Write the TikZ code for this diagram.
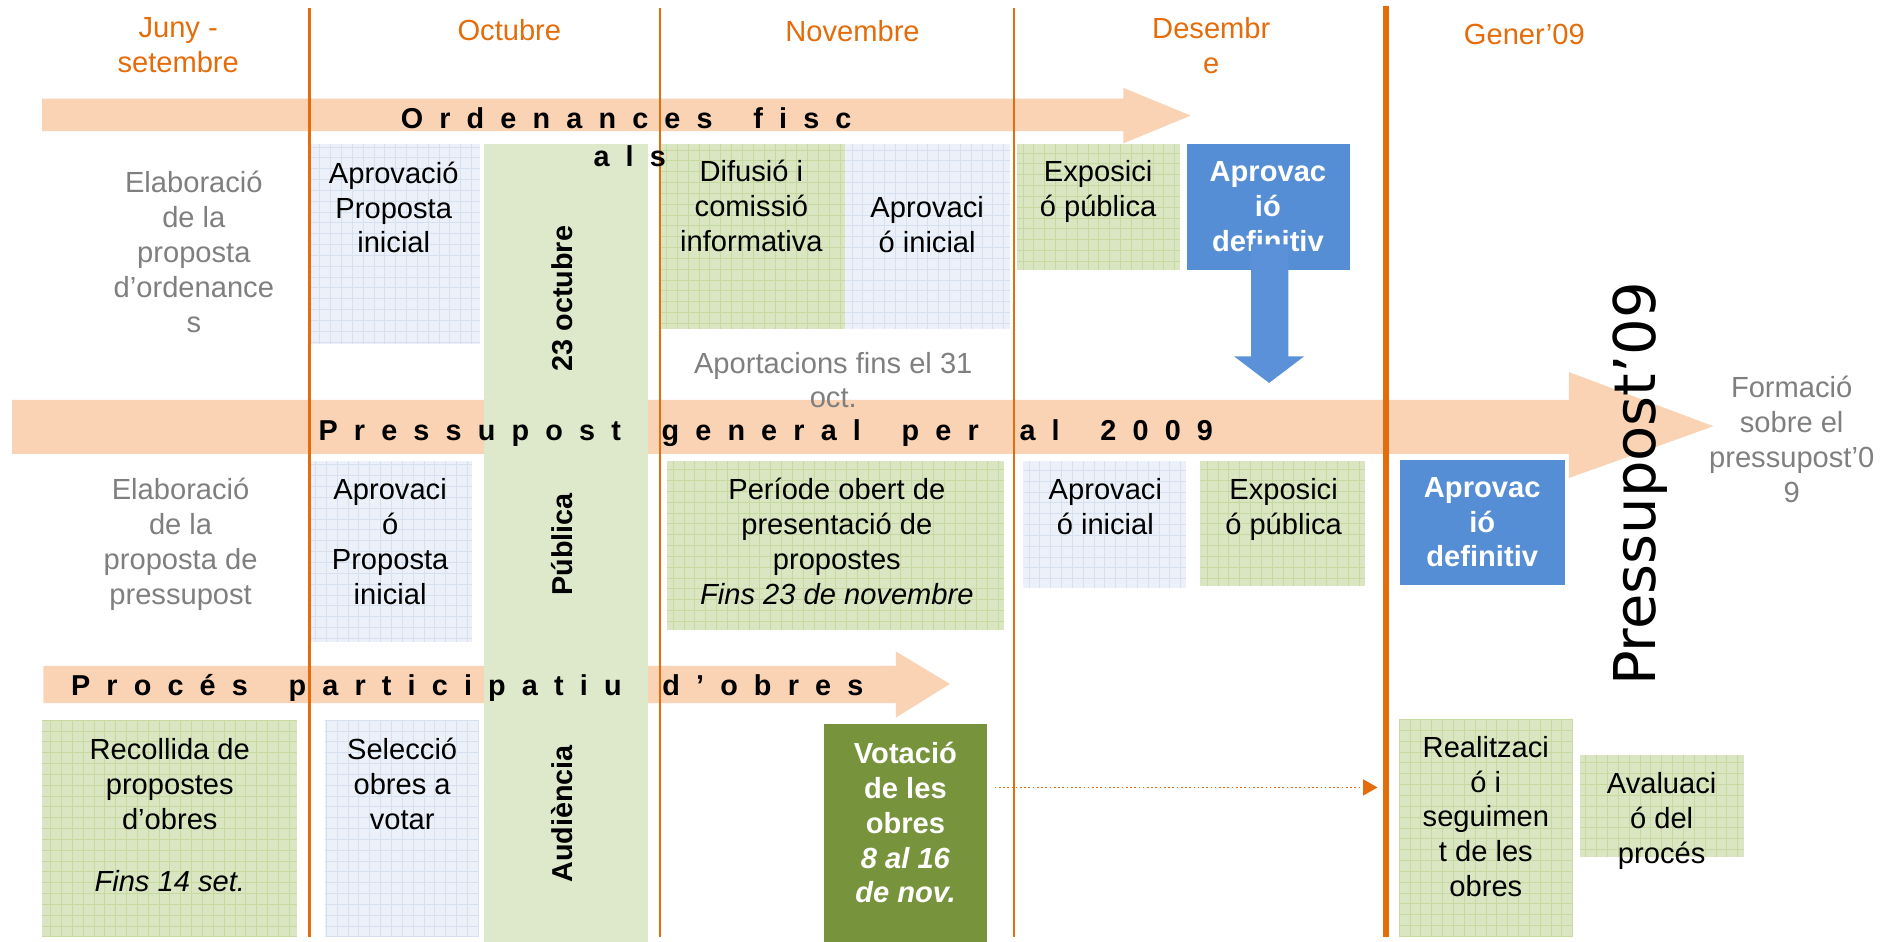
\documentclass[tikz,border=0pt]{standalone}
\usepackage{fontspec}
\setmainfont{Liberation Sans}
\newfontfamily\bigsans{DejaVu Sans}
\usetikzlibrary{arrows.meta}

\definecolor{mesorange}{HTML}{E46C0A}
\definecolor{peach}{HTML}{FAD3B5}
\definecolor{greenfill}{HTML}{DAE6C2}
\definecolor{greengrid}{HTML}{C6D9A0}
\definecolor{bandgreen}{HTML}{DEE9CC}
\definecolor{bluefill}{HTML}{ECF0F8}
\definecolor{bluegrid}{HTML}{D7E0EF}
\definecolor{boxblue}{HTML}{558ED5}
\definecolor{arrowblue}{HTML}{5B91D8}
\definecolor{olivebox}{HTML}{77933C}
\definecolor{greytext}{HTML}{7F7F7F}

\newcommand\bodyfont{\fontsize{17.2}{20.6}\selectfont}
\newcommand\spacedfont{\fontsize{17}{20}\selectfont\bfseries\spaceskip=9.55pt\relax}
\newcommand\wg{\hspace{14.5pt}}

\tikzset{
	mesline/.style={mesorange, line width=1.3pt},
	cell/.style={anchor=north west, inner sep=0pt, outer sep=0pt},
	gbox/.style={cell, fill=greenfill, path picture={\draw[greengrid, line width=0.4pt] (path picture bounding box.south west) grid[step=2.25mm] (path picture bounding box.north east);}},
	bbox/.style={cell, fill=bluefill, path picture={\draw[bluegrid, line width=0.4pt] (path picture bounding box.south west) grid[step=2.25mm] (path picture bounding box.north east);}},
	txt/.style={anchor=north, inner sep=0pt, align=center, font=\bodyfont, execute at begin node=\strut},
	month/.style={txt, text=mesorange},
	greytxt/.style={txt, text=greytext},
	whitetxt/.style={txt, text=white, font=\bodyfont\bfseries},
	bandtxt/.style={rotate=90, inner sep=0pt, font=\fontsize{17}{20}\selectfont\bfseries},
	spaced/.style={anchor=base, inner sep=0pt, font=\spacedfont}
}

\begin{document}
\begin{tikzpicture}[x=0.025cm, y=-0.025cm]
	\useasboundingbox (0,0) rectangle (1568,782);

	\fill[peach] (35,82) -- (933,82) -- (933,73) -- (989,96) -- (933,119) -- (933,109) -- (35,109) -- cycle;
	\fill[peach] (10,332) -- (1303,332) -- (1303,309) -- (1423,354) -- (1303,397) -- (1303,377) -- (10,377) -- cycle;
	\fill[peach] (36,553) -- (744,553) -- (744,541) -- (789,568) -- (744,596) -- (744,584) -- (36,584) -- cycle;

	\node[cell, fill=bandgreen, minimum width=3.4cm, minimum height=16.55cm] (band) at (402,120) {};

	\node[bbox, minimum width=3.525cm, minimum height=4.15cm] (ordaprov) at (258,120) {};
	\node[gbox, minimum width=3.825cm, minimum height=3.825cm] (difusio) at (549,120) {};
	\node[bbox, minimum width=3.425cm, minimum height=3.825cm] (ordinicial) at (702,120) {};
	\node[gbox, minimum width=3.375cm, minimum height=2.6cm] (ordexpo) at (845,120) {};
	\node[cell, fill=boxblue, minimum width=3.375cm, minimum height=2.6cm] (orddef) at (986,120) {};

	\node[bbox, minimum width=3.35cm, minimum height=3.75cm] (pressaprov) at (258,383) {};
	\node[gbox, minimum width=7cm, minimum height=3.5cm] (periode) at (554,383) {};
	\node[bbox, minimum width=3.375cm, minimum height=2.625cm] (pressinicial) at (850,383) {};
	\node[gbox, minimum width=3.425cm, minimum height=2.6cm] (pressexpo) at (997,383) {};
	\node[cell, fill=boxblue, minimum width=3.425cm, minimum height=2.6cm] (pressdef) at (1163,382) {};

	\node[gbox, minimum width=5.3cm, minimum height=4.5cm] (recollida) at (35,598) {};
	\node[bbox, minimum width=3.2cm, minimum height=4.5cm] (seleccio) at (270,598) {};
	\node[cell, fill=olivebox, minimum width=3.4cm, minimum height=4.525cm] (votacio) at (684,601) {};
	\node[gbox, minimum width=3.6cm, minimum height=4.525cm] (realitz) at (1162,597) {};
	\node[gbox, minimum width=3.4cm, minimum height=2.125cm] (avaluacio) at (1312,627) {};

	\draw[mesline] (257,7) -- (257,778);
	\draw[mesline] (548,7) -- (548,778);
	\draw[mesline] (842,7) -- (842,778);
	\draw[mesline, line width=3.2pt] (1151,5) -- (1151,778);

	\node[month] (juny) at (148,14) {Juny -\\setembre};
	\node[month] (octubre) at (423,13) {Octubre};
	\node[month] (novembre) at (708,14) {Novembre};
	\node[month] (desembre) at (1006,14) {Desembr\\e};
	\node[month] (gener) at (1266,16) {Gener’09};

	\node[greytxt] (aportacions) at (692,292) {Aportacions fins el 31\\oct.};

	\node[spaced] (ordtitle) at (520,107) {O r d e n a n c e s \wg f i s c};
	\node[spaced] (ordtitlecont) at (523,138) {a l s};
	\node[spaced] (presstitle) at (636,366) {P r e s s u p o s t \wg g e n e r a l \wg p e r \wg a l \wg 2 0 0 9};
	\node[spaced] (proctitle) at (388,578) {P r o c é s \wg p a r t i c i p a t i u \wg d ’ o b r e s};

	\node[bandtxt] (octdate) at (467,248) {23 octubre};
	\node[bandtxt] (publica) at (467,452) {Pública};
	\node[bandtxt] (audiencia) at (467,676) {Audiència};

	\node[greytxt] (ordelab) at (161,142) {Elaboració\\de la\\proposta\\d’ordenance\\s};
	\node[txt] (ordaprovt) at (327,134) {Aprovació\\Proposta\\inicial};
	\node[txt] (difusiot) at (624,133) {Difusió i\\comissió\\informativa};
	\node[txt] (ordinicialt) at (770,163) {Aprovaci\\ó inicial};
	\node[txt] (ordexpot) at (912,133) {Exposici\\ó pública};
	\node[whitetxt] (orddeft) at (1053,134) {Aprovac\\ió\\definitiv};

	\fill[arrowblue] (1039,203) -- (1070,203) -- (1070,296) -- (1083,296) -- (1054,318) -- (1025,296) -- (1039,296) -- cycle;

	\node[greytxt] (formacio) at (1488,312) {Formació\\sobre el\\pressupost’0\\9};
	\node[rotate=90, inner sep=0pt, font=\bigsans\fontsize{34}{40}\selectfont] (pressbig) at (1362,402) {Pressupost’09};

	\node[greytxt] (presselab) at (150,397) {Elaboració\\de la\\proposta de\\pressupost};
	\node[txt] (pressaprovt) at (324,397) {Aprovaci\\ó\\Proposta\\inicial};
	\node[txt] (periodet) at (695,397) {Període obert de\\presentació de\\propostes\\\textit{Fins 23 de novembre}};
	\node[txt] (pressinicialt) at (918,397) {Aprovaci\\ó inicial};
	\node[txt] (pressexpot) at (1066,397) {Exposici\\ó pública};
	\node[whitetxt] (pressdeft) at (1231,396) {Aprovac\\ió\\definitiv};

	\node[txt] (recollidat) at (141,613) {Recollida de\\propostes\\d’obres\\[16pt]\textit{Fins 14 set.}};
	\node[txt] (selecciot) at (334,613) {Selecció\\obres a\\votar};
	\node[whitetxt] (votaciot) at (752,616) {Votació\\de les\\obres\\\textit{8 al 16}\\\textit{de nov.}};
	\node[txt] (realitzt) at (1234,611) {Realitzaci\\ó i\\seguimen\\t de les\\obres};
	\node[txt] (avaluaciot) at (1380,641) {Avaluaci\\ó del\\procés};

	\coordinate (votout) at ([shift={(6,53)}]votacio.north east);
	\coordinate (realin) at ([shift={(-18,57)}]realitz.north west);
	\draw[mesorange, line width=0.8pt, dash pattern=on 1pt off 1.5pt, -{Triangle[length=8.5pt, width=9.5pt]}] (votout) -- (realin);
\end{tikzpicture}
\end{document}
